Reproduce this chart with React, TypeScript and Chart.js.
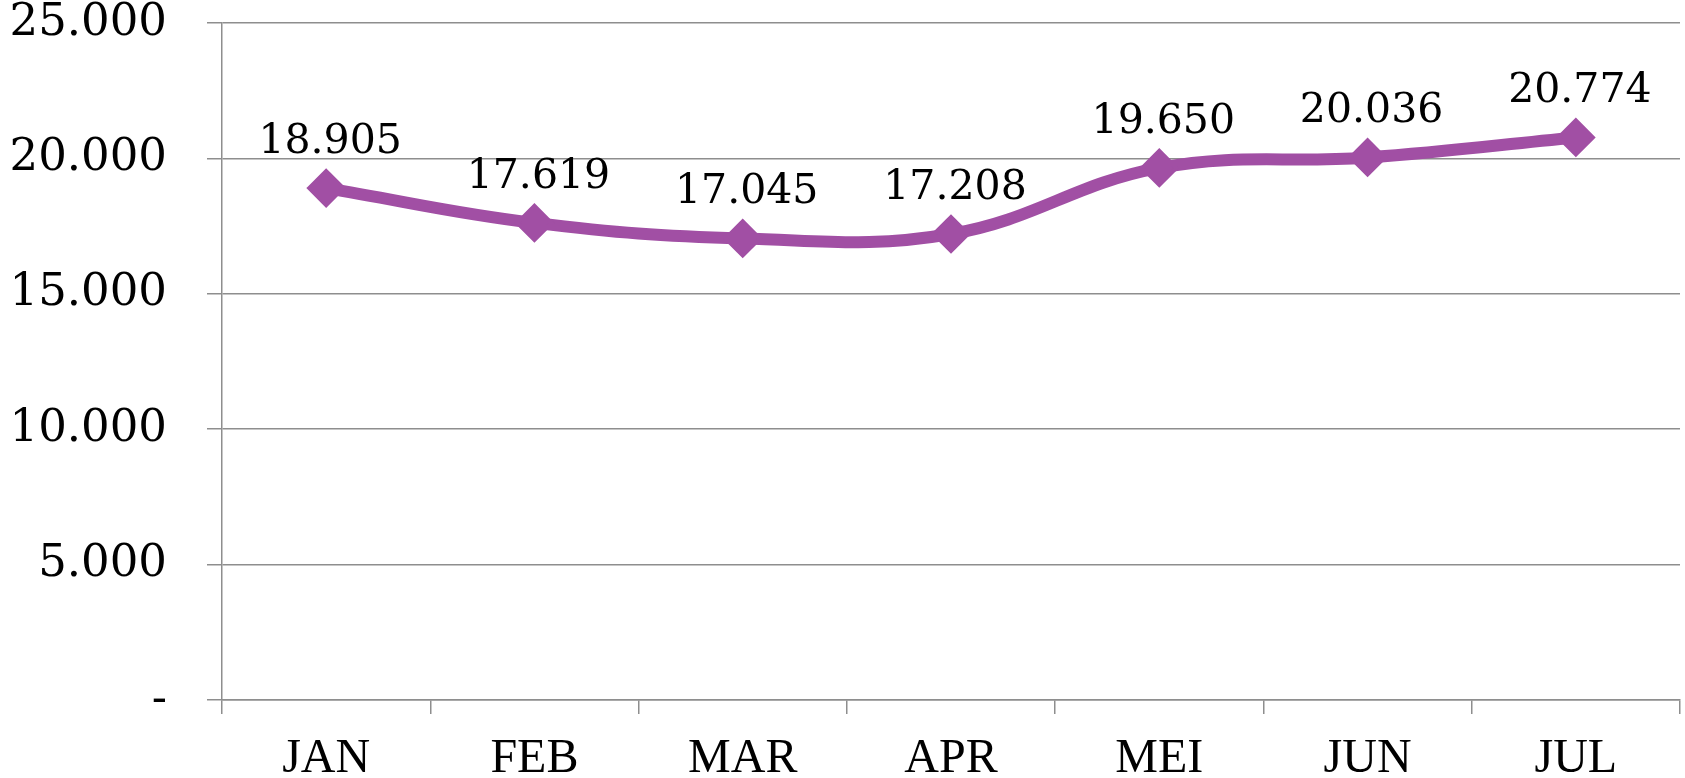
import React, { useEffect, useRef } from "react";
import { Chart, registerables } from "chart.js";

Chart.register(...registerables);

const categories = ["JAN", "FEB", "MAR", "APR", "MEI", "JUN", "JUL"];
const values = [18905, 17619, 17045, 17208, 19650, 20036, 20774];
const yMin = 0;
const yMax = 25000;
const yStep = 5000;

const LINE_COLOR = "#A14FA4";
const GRID_COLOR = "#8e8e8e";
const NUM_FONT = "'DejaVu Serif', serif";
const CAT_FONT = "'Liberation Serif', 'Times New Roman', serif";

function fmt(v: number): string {
  if (v === 0) return "-";
  return String(Math.round(v)).replace(/\B(?=(\d{3})+(?!\d))/g, ".");
}

const dataLabelPlugin = {
  id: "dataLabels",
  afterDatasetsDraw(chart: any) {
    const ctx = chart.ctx;
    const meta = chart.getDatasetMeta(0);
    ctx.save();
    ctx.font = `41px ${NUM_FONT}`;
    ctx.fillStyle = "#000";
    ctx.textAlign = "center";
    ctx.textBaseline = "alphabetic";
    meta.data.forEach((pt: any, i: number) => {
      ctx.fillText(fmt(values[i]), pt.x + 4, pt.y - 35);
    });
    ctx.restore();
  },
};

export default function App() {
  const ref = useRef<HTMLCanvasElement | null>(null);

  useEffect(() => {
    if (!ref.current) return;
    const chart = new Chart(ref.current, {
      type: "line",
      data: {
        labels: categories,
        datasets: [
          {
            data: values,
            borderColor: LINE_COLOR,
            backgroundColor: LINE_COLOR,
            borderWidth: 12,
            tension: 0.4,
            pointStyle: "rectRot",
            pointRadius: 17,
            pointHoverRadius: 17,
            pointBorderWidth: 4,
            pointBackgroundColor: LINE_COLOR,
            pointBorderColor: LINE_COLOR,
            clip: false as any,
          },
        ],
      },
      options: {
        responsive: false,
        maintainAspectRatio: false,
        animation: false,
        layout: { autoPadding: false, padding: { left: 0, right: 5, top: 23, bottom: 0 } },
        plugins: {
          legend: { display: false },
          tooltip: { enabled: false },
        },
        scales: {
          x: {
            offset: true,
            grid: {
              display: true,
              offset: true,
              drawOnChartArea: false,
              drawTicks: true,
              tickLength: 14,
              color: GRID_COLOR,
              lineWidth: 1.5,
            },
            border: { display: true, color: GRID_COLOR, width: 1.5 },
            ticks: {
              color: "#000",
              padding: 17,
              font: { family: CAT_FONT, size: 48 },
              maxRotation: 0,
              autoSkip: false,
            },
            afterFit: (scale: any) => {
              scale.height = 78;
              scale.paddingLeft = 0;
              scale.paddingRight = 0;
              scale.paddingTop = 0;
              scale.paddingBottom = 0;
            },
          },
          y: {
            min: yMin,
            max: yMax,
            grid: {
              color: GRID_COLOR,
              lineWidth: 1.5,
              tickLength: 15,
              drawTicks: true,
            },
            border: { display: true, color: GRID_COLOR, width: 1.5 },
            ticks: {
              stepSize: yStep,
              color: "#000",
              padding: 40,
              font: { family: NUM_FONT, size: 45, lineHeight: 1.0 },
              callback: (v: any) => fmt(Number(v)),
            },
            afterFit: (scale: any) => {
              scale.width = 222;
              scale.paddingLeft = 0;
              scale.paddingRight = 0;
              scale.paddingTop = 0;
              scale.paddingBottom = 0;
            },
          },
        },
      },
      plugins: [dataLabelPlugin],
    });
    return () => chart.destroy();
  }, []);

  return (
    <div style={{ position: "fixed", left: 0, top: 0, width: 1685, height: 778, background: "#fff" }}>
      <canvas ref={ref} width={1685} height={778} style={{ display: "block" }} />
    </div>
  );
}
